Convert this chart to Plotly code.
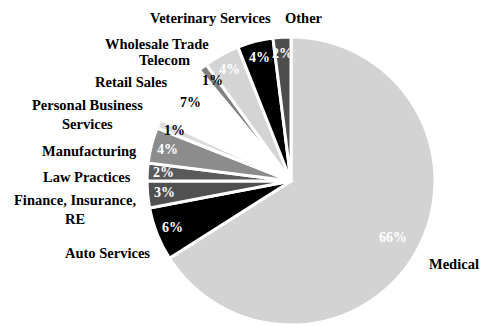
import numpy as np
import plotly.graph_objects as go

# Share of businesses by industry (percent)
categories = ["Medical", "Auto Services", "Finance, Insurance, RE", "Law Practices",
              "Manufacturing", "Personal Business Services", "Retail Sales",
              "Wholesale Trade", "Telecom", "Veterinary Services", "Other"]
shares = [66, 6, 3, 2, 4, 1, 7, 1, 4, 4, 2]

# Label text shown beside each slice (line breaks for wrapped names)
label_text = ["Medical", "Auto Services", "Finance, Insurance,<br>RE", "Law Practices",
              "Manufacturing", "Personal Business<br>Services", "Retail Sales",
              "Wholesale Trade", "Telecom", "Veterinary Services", "Other"]

# Styling
slice_colors = ["#d3d3d3", "#000000", "#505050", "#5a5a5a", "#8c8c8c", "#dcdcdc",
                "#ffffff", "#808080", "#d4d4d4", "#000000", "#4d4d4d"]
pct_colors = ["white", "white", "white", "white", "white", "black",
              "black", "black", "white", "white", "white"]

W, H = 483, 326
FONT = "Liberation Serif"

# Pie placement (paper fractions)
dom_x = [147 / W, 435 / W]
dom_y = [1 / H, 289 / H]

# Outside label anchor points (pixels)
label_xy = [(454, 264), (107, 253), (75, 209), (87, 177), (89, 151), (87, 115),
            (131, 82), (157, 44), (164, 60), (210, 18), (304, 18)]

fig = go.Figure(go.Pie(
    labels=categories,
    values=shares,
    sort=False,
    direction="clockwise",
    rotation=0,
    textinfo="none",
    hoverinfo="label+percent",
    marker=dict(colors=slice_colors, line=dict(color="white", width=3)),
    domain=dict(x=dom_x, y=dom_y),
    showlegend=False,
))

annotations = []
for txt, (px, py) in zip(label_text, label_xy):
    annotations.append(dict(
        text=txt, x=px / W, y=1 - py / H, xref="paper", yref="paper",
        xanchor="center", yanchor="middle", showarrow=False, align="center",
        font=dict(family=FONT, size=14.5, color="black", weight="bold"),
    ))

# Percent labels placed near the outer end of each slice
cx = (dom_x[0] + dom_x[1]) / 2 * W
cy = (1 - (dom_y[0] + dom_y[1]) / 2) * H
R = min((dom_x[1] - dom_x[0]) * W, (dom_y[1] - dom_y[0]) * H) / 2
total = float(sum(shares))
cum = np.cumsum([0] + shares[:-1])
for i, v in enumerate(shares):
    mid = (cum[i] + v / 2) / total * 2 * np.pi
    frac = 0.81 if v > 50 else 0.885
    px = cx + frac * R * np.sin(mid)
    py = cy - frac * R * np.cos(mid)
    annotations.append(dict(
        text=f"{v}%", x=px / W, y=1 - py / H, xref="paper", yref="paper",
        xanchor="center", yanchor="middle", showarrow=False,
        font=dict(family=FONT, size=14, color=pct_colors[i], weight="bold"),
    ))

fig.update_layout(
    width=W, height=H,
    margin=dict(l=0, r=0, t=0, b=0),
    paper_bgcolor="white",
    plot_bgcolor="white",
    annotations=annotations,
)

fig.write_html("out.html")
